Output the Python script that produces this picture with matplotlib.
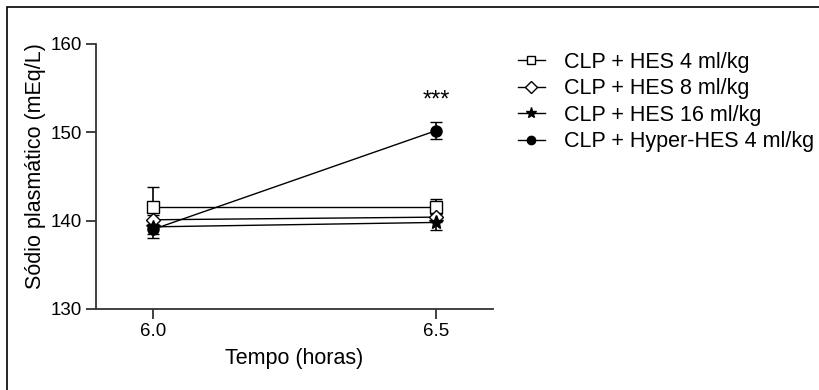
import numpy as np
import matplotlib.pyplot as plt
from matplotlib.patches import Rectangle

plt.rcParams['font.family'] = ['Liberation Sans', 'DejaVu Sans']

# time points (hours)
tempo = [6.0, 6.5]

labels = ['CLP + HES 4 ml/kg', 'CLP + HES 8 ml/kg',
          'CLP + HES 16 ml/kg', 'CLP + Hyper-HES 4 ml/kg']
markers = ['s', 'D', '*', 'o']
filled = [False, False, True, True]

# plasma sodium, mean and error (mEq/L)
hes4_mean = [141.6, 141.6]
hes4_err = [2.2, 0.9]
hes8_mean = [140.1, 140.4]
hes8_err = [0.5, 0.6]
hes16_mean = [139.3, 139.8]
hes16_err = [0.8, 0.9]
hyper_mean = [139.0, 150.2]
hyper_err = [1.0, 1.0]

means = [hes4_mean, hes8_mean, hes16_mean, hyper_mean]
errs = [hes4_err, hes8_err, hes16_err, hyper_err]
msizes = [8, 7, 10, 8]

fig = plt.figure(figsize=(8.2, 3.9), dpi=100)
ax = fig.add_axes([96 / 820, 81 / 390, 397 / 820, 265 / 390])

for m, e, mk, fl, ms, lab in zip(means, errs, markers, filled, msizes, labels):
    ax.errorbar(tempo, m, yerr=e, color='black', lw=1.0, elinewidth=1.2,
                capsize=4.5, capthick=2, marker=mk, markersize=ms,
                markerfacecolor='black' if fl else 'white',
                markeredgecolor='black', markeredgewidth=1.0, label=lab)

ax.text(6.5, 153.6, '***', ha='center', va='center', fontsize=17)

ax.set_xlim(5.9, 6.6)
ax.set_ylim(130, 160)
ax.set_xticks(tempo)
ax.set_xticklabels(['6.0', '6.5'])
ax.set_yticks([130, 140, 150, 160])
ax.tick_params(labelsize=13.5, length=7, width=1.3, pad=3, color='#333333')
for s in ['top', 'right']:
    ax.spines[s].set_visible(False)
for s in ['left', 'bottom']:
    ax.spines[s].set_linewidth(1.3)
    ax.spines[s].set_color('#333333')

ax.set_xlabel('Tempo (horas)', fontsize=15.5, va='center')
ax.set_ylabel('Sódio plasmático (mEq/L)', fontsize=15.5, va='center')
ax.xaxis.set_label_coords(0.5, -0.185)
ax.yaxis.set_label_coords(-0.153, 0.54)

leg_handles = []
for mk, fl, lab in zip(markers, filled, labels):
    ln, = ax.plot([], [], color='black', lw=1.0, marker=mk,
                  markersize=6 if mk != '*' else 8,
                  markerfacecolor='black' if fl else 'white',
                  markeredgecolor='black', markeredgewidth=1.0)
    leg_handles.append(ln)
fig.legend(leg_handles, labels, loc='upper left',
           bbox_to_anchor=(518 / 820, 1 - 52 / 390), frameon=False,
           fontsize=15.5, handlelength=1.25, handletextpad=0.9,
           labelspacing=0.25, borderaxespad=0, borderpad=0)

# outer frame
fig.patches.append(Rectangle((7 / 820, -0.1), 1.2, 1.1 - 7 / 390,
                             transform=fig.transFigure, fill=False,
                             edgecolor='black', lw=1.2))

fig.savefig('out.png', dpi=100)
